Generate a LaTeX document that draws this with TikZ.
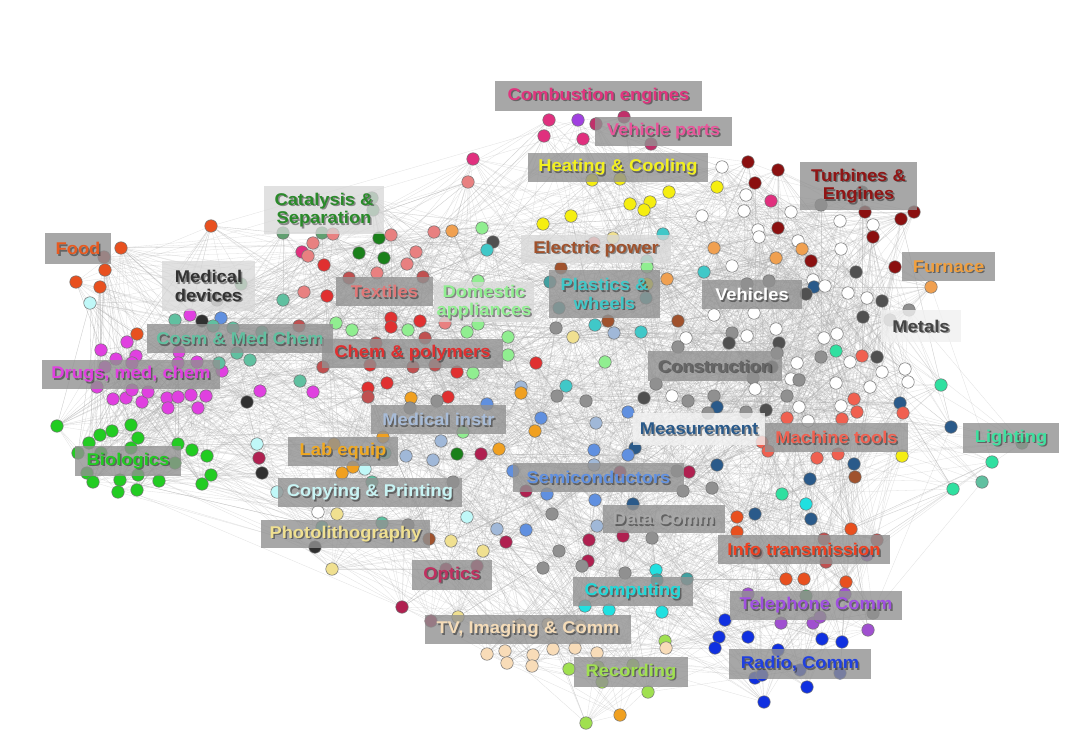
\documentclass[tikz,border=0pt]{standalone}
\usepackage{fontspec}
\setmainfont{Liberation Sans}
\newfontfamily\lblfont[FakeStretch=1.08]{Liberation Sans}
\usetikzlibrary{calc}
\pgfdeclarelayer{back}
\pgfdeclarelayer{bg}
\pgfsetlayers{back,bg,main}
\definecolor{cFo}{HTML}{E8501F}
\definecolor{cDp}{HTML}{E0307E}
\definecolor{cMv}{HTML}{C0306A}
\definecolor{cPu}{HTML}{A040E0}
\definecolor{cYe}{HTML}{F5EE10}
\definecolor{cWh}{HTML}{FFFFFF}
\definecolor{cDr}{HTML}{8B1010}
\definecolor{cSa}{HTML}{F0A050}
\definecolor{cDg}{HTML}{505050}
\definecolor{cGr}{HTML}{909090}
\definecolor{cSt}{HTML}{2A5A8A}
\definecolor{cSp}{HTML}{30E0A0}
\definecolor{cTo}{HTML}{F06050}
\definecolor{cLc}{HTML}{E88080}
\definecolor{cRe}{HTML}{E03030}
\definecolor{cDk}{HTML}{1A801A}
\definecolor{cSg}{HTML}{60A070}
\definecolor{cLg}{HTML}{90EE90}
\definecolor{cTu}{HTML}{40C8C8}
\definecolor{cTe}{HTML}{40A0A0}
\definecolor{cSi}{HTML}{A0522D}
\definecolor{cKh}{HTML}{F0E090}
\definecolor{cLs}{HTML}{A0B8D8}
\definecolor{cCo}{HTML}{6090E0}
\definecolor{cCr}{HTML}{B02050}
\definecolor{cCy}{HTML}{C0F8F8}
\definecolor{cLi}{HTML}{22CC22}
\definecolor{cMa}{HTML}{E040E0}
\definecolor{cAq}{HTML}{60C0A0}
\definecolor{cBk}{HTML}{303030}
\definecolor{cOr}{HTML}{F0A020}
\definecolor{cWt}{HTML}{F8DCB8}
\definecolor{cYg}{HTML}{A0E050}
\definecolor{cCn}{HTML}{20E0E0}
\definecolor{cVi}{HTML}{A050D0}
\definecolor{cBl}{HTML}{1030E0}
\definecolor{cIr}{HTML}{C05050}
% label text colours
\definecolor{tComb}{HTML}{E0357E}
\definecolor{tVpar}{HTML}{E8559A}
\definecolor{tHeat}{HTML}{F2F020}
\definecolor{tCat}{HTML}{2A8A2A}
\definecolor{tTurb}{HTML}{901515}
\definecolor{tFood}{HTML}{E85A20}
\definecolor{tMdev}{HTML}{333333}
\definecolor{tElec}{HTML}{A0522D}
\definecolor{tText}{HTML}{E07878}
\definecolor{tDom}{HTML}{90EE90}
\definecolor{tPlas}{HTML}{40C8C8}
\definecolor{tFurn}{HTML}{F0A040}
\definecolor{tMet}{HTML}{444444}
\definecolor{tCosm}{HTML}{60C0A0}
\definecolor{tChem}{HTML}{E03030}
\definecolor{tDrug}{HTML}{E040E0}
\definecolor{tCons}{HTML}{666666}
\definecolor{tMins}{HTML}{A8BCD8}
\definecolor{tMeas}{HTML}{2A5A8A}
\definecolor{tMach}{HTML}{F06050}
\definecolor{tLigh}{HTML}{40E0A0}
\definecolor{tBio}{HTML}{22CC22}
\definecolor{tLab}{HTML}{F0A820}
\definecolor{tSemi}{HTML}{6090E0}
\definecolor{tCopy}{HTML}{C8F4F4}
\definecolor{tData}{HTML}{A8A8A8}
\definecolor{tPhot}{HTML}{F0E090}
\definecolor{tInfo}{HTML}{F04020}
\definecolor{tOpt}{HTML}{C03060}
\definecolor{tComp}{HTML}{20D8D8}
\definecolor{tTel}{HTML}{A050E0}
\definecolor{tTV}{HTML}{F5DCB8}
\definecolor{tRad}{HTML}{2040E0}
\definecolor{tRec}{HTML}{A0E050}
\tikzset{
  dot/.style={circle, inner sep=0pt, minimum size=12.5pt, draw=black!55, line width=0.5pt},
  edge/.style={draw={rgb,255:red,175;green,175;blue,175}, line width=0.3pt, draw opacity=0.38},
  lbox/.style={rectangle, inner sep=0pt, fill={rgb,255:red,145;green,145;blue,145}, fill opacity=0.8},
  lboxl/.style={rectangle, inner sep=0pt, fill={rgb,255:red,215;green,215;blue,215}, fill opacity=0.75},
  lboxw/.style={rectangle, inner sep=0pt, fill={rgb,255:red,240;green,240;blue,240}, fill opacity=0.8},
  ltext/.style={inner sep=0pt, align=center, font=\lblfont\bfseries\fontsize{17}{18.5}\selectfont},
  lshad/.style={ltext, text=black, text opacity=0.4},
}
\newcommand\glabel[8]{%
  \node[#2, minimum width=#5pt, minimum height=#6pt] (#1) at (#3,#4) {};
  \node[lshad] (#1s) at (#3+1.5,#4+1.5) {#8};
  \node[ltext, text=#7] (#1t) at (#3,#4) {#8};
}
\begin{document}
\begin{tikzpicture}[x=1pt,y=-1pt]
\useasboundingbox (0,0) rectangle (1080,733);
\begin{pgfonlayer}{back}
\fill[white] (0,0) rectangle (1080,733);
\end{pgfonlayer}
\foreach \x/\y/\c [count=\i] in {
211/226/cFo, 121/248/cFo, 104/257/cIr, 105/270/cFo, 76/282/cFo, 100/287/cFo, 90/303/cCy,
283/233/cSg, 322/233/cSg, 333/234/cLc, 313/243/cLc, 302/252/cDp, 308/256/cLc, 324/265/cRe, 349/278/cIr, 304/292/cLc, 327/296/cRe, 283/300/cAq, 241/284/cSg, 217/300/cGr, 372/198/cSg, 373/210/cSg, 379/238/cDk, 391/235/cLc, 359/253/cDk, 384/258/cDk, 416/252/cLc, 407/264/cLc, 377/273/cLc, 423/277/cIr, 434/232/cLc, 452/231/cSa, 482/228/cLg, 493/242/cDg, 487/250/cTu, 478/281/cLg, 391/318/cRe, 391/327/cRe, 420/321/cRe, 408/330/cLg, 425/338/cIr, 376/343/cIr, 413/367/cIr, 445/323/cLc, 467/332/cLg, 478/324/cLg, 508/337/cLg, 508/355/cLg, 473/373/cLg, 457/372/cRe, 435/365/cIr, 370/365/cRe, 387/383/cRe, 368/388/cRe, 368/397/cIr, 448/397/cRe, 437/401/cGr, 411/398/cOr, 410/408/cGr, 487/404/cCo, 521/387/cLs, 521/393/cOr, 536/363/cRe,
190/315/cMa, 202/321/cBk, 221/318/cCo, 175/320/cAq, 213/326/cAq, 233/328/cAq, 262/332/cAq, 299/326/cIr, 336/323/cLg, 352/330/cLg, 237/353/cAq, 250/360/cAq, 323/367/cIr, 300/381/cAq, 313/392/cMa, 260/391/cMa, 247/402/cBk, 222/371/cMa, 137/334/cFo,
127/342/cMa, 101/350/cMa, 116/359/cMa, 136/356/cMa, 132/363/cMa, 105/367/cMa, 179/352/cMa, 178/363/cMa, 197/362/cMa, 219/363/cAq, 97/387/cMa, 113/399/cMa, 126/398/cMa, 132/390/cMa, 142/402/cMa, 148/392/cMa, 167/398/cMa, 168/408/cMa, 178/397/cMa, 191/395/cMa, 206/396/cMa, 198/408/cMa,
57/426/cLi, 100/435/cLi, 112/431/cLi, 131/425/cLi, 138/438/cLi, 89/443/cLi, 78/453/cLi, 101/453/cLi, 131/448/cLi, 178/444/cLi, 192/450/cLi, 207/456/cLi, 175/463/cLi, 87/473/cLi, 93/482/cLi, 120/480/cLi, 138/475/cLi, 159/481/cLi, 211/475/cLi, 202/484/cLi, 118/492/cLi, 137/490/cLi,
257/444/cCy, 259/458/cCr, 262/473/cBk, 277/492/cCy, 318/512/cWh, 337/514/cKh, 322/527/cAq, 315/547/cBk, 334/444/cOr, 342/473/cOr, 353/467/cOr, 332/569/cKh, 383/437/cOr, 385/453/cAq, 406/456/cLs, 433/460/cLs, 441/441/cLs, 457/454/cDk, 481/454/cCr, 499/449/cOr, 463/432/cLg, 365/469/cCy, 372/482/cAq, 453/482/cGr, 467/517/cCy, 497/529/cLs, 382/523/cAq, 408/525/cGr, 429/539/cSi, 451/541/cKh, 483/551/cKh, 506/542/cCr,
556/328/cGr, 573/337/cKh, 595/325/cTu, 608/321/cSi, 614/333/cLs, 641/332/cTu, 678/321/cSi, 686/338/cWh, 678/347/cGr, 605/362/cLg, 566/386/cTu, 557/396/cGr, 586/401/cGr, 541/418/cCo, 535/431/cOr, 596/423/cLs, 644/398/cDg, 672/396/cWh, 688/401/cGr, 656/384/cGr, 714/396/cGr, 717/407/cSt, 708/413/cGr, 628/412/cCo, 746/412/cGr, 766/410/cDg, 594/450/cCo, 635/448/cSt, 628/455/cCo, 594/465/cLs, 513/471/cCo, 526/491/cCr, 547/494/cCo, 620/472/cCr, 689/472/cCr, 677/471/cGr, 683/491/cGr, 712/488/cGr, 717/465/cSt, 595/500/cCo, 633/504/cSt, 552/514/cGr, 526/530/cCo, 597/526/cLs, 559/551/cGr, 589/540/cCr, 623/536/cCr, 652/538/cGr, 588/561/cCr, 543/568/cGr, 582/566/cGr, 625/573/cGr,
549/120/cDp, 578/120/cPu, 596/124/cMv, 624/117/cMv, 544/136/cDp, 583/139/cDp, 651/144/cMv, 473/159/cDp, 468/182/cLc, 592/180/cYe, 620/179/cYe, 717/187/cYe, 669/192/cYe, 650/202/cYe, 630/204/cYe, 644/210/cYe, 571/216/cYe, 543/224/cYe, 702/216/cWh, 663/234/cTu, 613/238/cKh, 594/243/cLc, 647/261/cAq, 647/267/cLg, 561/268/cSi, 550/282/cTe, 647/284/cYe, 667/279/cSa, 714/248/cSa, 704/272/cTu, 646/298/cTe, 559/308/cTe,
748/162/cDr, 778/170/cDr, 755/183/cDr, 722/167/cWh, 771/201/cDp, 746/195/cWh, 744/211/cWh, 791/212/cWh, 821/205/cGr, 862/192/cDg, 865/212/cDr, 901/219/cDr, 914/212/cDr, 840/221/cWh, 873/225/cWh, 873/237/cDr, 758/230/cWh, 759/237/cWh, 778/228/cDr, 798/241/cWh, 802/249/cSa, 776/258/cSa, 811/261/cDr, 841/249/cWh, 895/267/cDr, 931/287/cSa, 732/266/cWh, 856/272/cDg, 769/281/cGr, 747/284/cGr, 813/280/cWh, 814/287/cSt, 806/294/cDg, 825/286/cWh, 848/293/cWh, 867/298/cWh, 882/301/cDg, 909/310/cGr, 890/320/cGr, 863/317/cDg, 754/313/cWh, 714/315/cWh, 776/329/cWh, 747/336/cWh, 732/333/cGr, 729/343/cDg, 779/343/cDg, 777/353/cGr, 824/338/cWh, 837/334/cWh, 836/351/cSp, 821/357/cGr, 862/356/cTo, 877/357/cDg, 850/362/cWh, 797/363/cWh, 772/367/cDg, 882/372/cWh, 905/369/cWh, 908/382/cWh, 941/385/cSp, 791/379/cWh, 799/380/cGr, 836/383/cWh, 870/387/cWh, 753/378/cGr, 755/389/cWh, 787/396/cGr, 799/407/cWh, 808/421/cWh, 787/418/cTo, 841/406/cWh, 854/399/cTo, 857/412/cTo, 842/419/cTo, 762/442/cTo, 768/451/cTo, 817/458/cTo, 838/454/cTo, 900/403/cSt, 903/413/cTo, 951/427/cSt, 902/456/cYe, 992/462/cSp, 982/482/cAq, 953/489/cSp, 1022/443/cSg,
854/464/cSt, 855/477/cSi, 810/479/cSt, 782/494/cSp, 806/504/cCn, 811/519/cSt, 755/514/cSt, 737/517/cFo, 737/532/cFo, 851/529/cFo, 824/539/cIr, 877/540/cIr, 826/562/cIr, 757/553/cIr, 867/555/cVi, 786/579/cFo, 804/579/cFo, 846/582/cFo, 748/594/cVi, 806/596/cSg, 845/594/cVi, 725/620/cBl, 781/623/cVi, 813/623/cVi, 868/630/cVi, 820/617/cVi, 719/637/cBl, 715/648/cBl, 748/637/cBl, 822/639/cBl, 842/642/cBl, 778/650/cBl, 755/678/cBl, 762/675/cBl, 800/670/cBl, 840/673/cBl, 807/687/cBl, 764/702/cBl, 873/613/cGr,
446/569/cCr, 477/566/cCr, 402/607/cCr, 431/621/cCr, 458/617/cKh, 520/625/cWt, 548/624/cWt, 580/626/cWt, 487/654/cWt, 505/651/cWt, 507/663/cWt, 533/655/cWt, 532/666/cWt, 553/649/cWt, 575/648/cWt, 597/653/cWt, 569/669/cYg, 598/667/cYg, 633/665/cYg, 665/641/cYg, 666/648/cWt, 602/682/cYg, 648/692/cYg, 620/715/cOr, 586/723/cYg, 656/570/cCn, 687/579/cTe, 657/580/cTe, 585/606/cCn, 609/610/cCn, 662/612/cCn}
{
  \node[dot, fill=\c] (d\i) at (\x,\y) {};
  \expandafter\xdef\csname px\i\endcsname{\x}%
  \expandafter\xdef\csname py\i\endcsname{\y}%
  \xdef\N{\i}%
}
\pgfmathsetseed{4242}
\begin{pgfonlayer}{bg}
\foreach \i in {1,...,\N}{
  \foreach \k in {1,...,40}{
    \pgfmathtruncatemacro\j{random(1,\N)}
    \edef\xa{\csname px\i\endcsname}\edef\ya{\csname py\i\endcsname}%
    \edef\xb{\csname px\j\endcsname}\edef\yb{\csname py\j\endcsname}%
    \pgfmathtruncatemacro\ok{(veclen(\xa-\xb,\ya-\yb)<215)||(rnd<0.03)}
    \ifnum\ok=1 \ifnum\i=\j\else \draw[edge] (d\i) -- (d\j);\fi\fi
  }
}
\end{pgfonlayer}
% labels
\glabel{comb}{lbox}{598.5}{96}{207}{30}{tComb}{Combustion engines}
\glabel{vpar}{lbox}{663.5}{131.5}{137}{29}{tVpar}{Vehicle parts}
\glabel{heat}{lbox}{618}{167.5}{180}{29}{tHeat}{Heating \& Cooling}
\glabel{cat}{lboxl}{324}{210}{120}{48}{tCat}{Catalysis \&\\Separation}
\glabel{turb}{lbox}{858.5}{186}{117}{48}{tTurb}{Turbines \&\\Engines}
\glabel{food}{lbox}{78}{248.5}{66}{31}{tFood}{Food}
\glabel{mdev}{lboxl}{208.5}{286}{93}{50}{tMdev}{Medical\\devices}
\glabel{elec}{lboxl}{596}{249}{150}{27}{tElec}{Electric power}
\glabel{text}{lbox}{384.5}{291.5}{97}{29}{tText}{Textiles}
\glabel{dom}{lboxl}{484}{302}{100}{40}{tDom}{Domestic\\appliances}
\glabel{plas}{lbox}{604.5}{294}{111}{48}{tPlas}{Plastics \&\\wheels}
\glabel{veh}{lbox}{752}{294.5}{100}{29}{white}{Vehicles}
\glabel{furn}{lbox}{948.5}{266.5}{93}{29}{tFurn}{Furnace}
\glabel{met}{lboxw}{921}{326}{80}{32}{tMet}{Metals}
\glabel{cosm}{lbox}{240}{338.5}{186}{29}{tCosm}{Cosm \& Med Chem}
\glabel{chem}{lbox}{412.5}{353.5}{181}{29}{tChem}{Chem \& polymers}
\glabel{drug}{lbox}{131}{374.5}{178}{29}{tDrug}{Drugs, med, chem}
\glabel{cons}{lbox}{715}{366}{134}{30}{tCons}{Construction}
\glabel{mins}{lbox}{438.5}{419.5}{135}{29}{tMins}{Medical instr}
\glabel{meas}{lboxw}{699}{429}{132}{32}{tMeas}{Measurement}
\glabel{mach}{lbox}{836.5}{437.5}{143}{29}{tMach}{Machine tools}
\glabel{ligh}{lbox}{1011}{438}{96}{30}{tLigh}{Lighting}
\glabel{bio}{lbox}{128}{461}{106}{30}{tBio}{Biologics}
\glabel{lab}{lbox}{343}{451.5}{110}{29}{tLab}{Lab equip}
\glabel{semi}{lbox}{598.5}{477.5}{171}{29}{tSemi}{Semiconductors}
\glabel{copy}{lbox}{370}{492.5}{184}{29}{tCopy}{Copying \& Printing}
\glabel{data}{lbox}{664}{519}{122}{28}{tData}{Data Comm}
\glabel{phot}{lbox}{345.5}{534}{169}{28}{tPhot}{Photolithography}
\glabel{info}{lbox}{804}{549.5}{172}{29}{tInfo}{Info transmission}
\glabel{opt}{lbox}{452}{575}{80}{30}{tOpt}{Optics}
\glabel{comp}{lbox}{633}{591.5}{120}{29}{tComp}{Computing}
\glabel{tel}{lbox}{816}{605.5}{172}{29}{tTel}{Telephone Comm}
\glabel{tv}{lbox}{528}{629.5}{206}{29}{tTV}{TV, Imaging \& Comm}
\glabel{rad}{lbox}{800}{664}{142}{30}{tRad}{Radio, Comm}
\glabel{rec}{lbox}{631}{672}{114}{30}{tRec}{Recording}
\end{tikzpicture}
\end{document}
